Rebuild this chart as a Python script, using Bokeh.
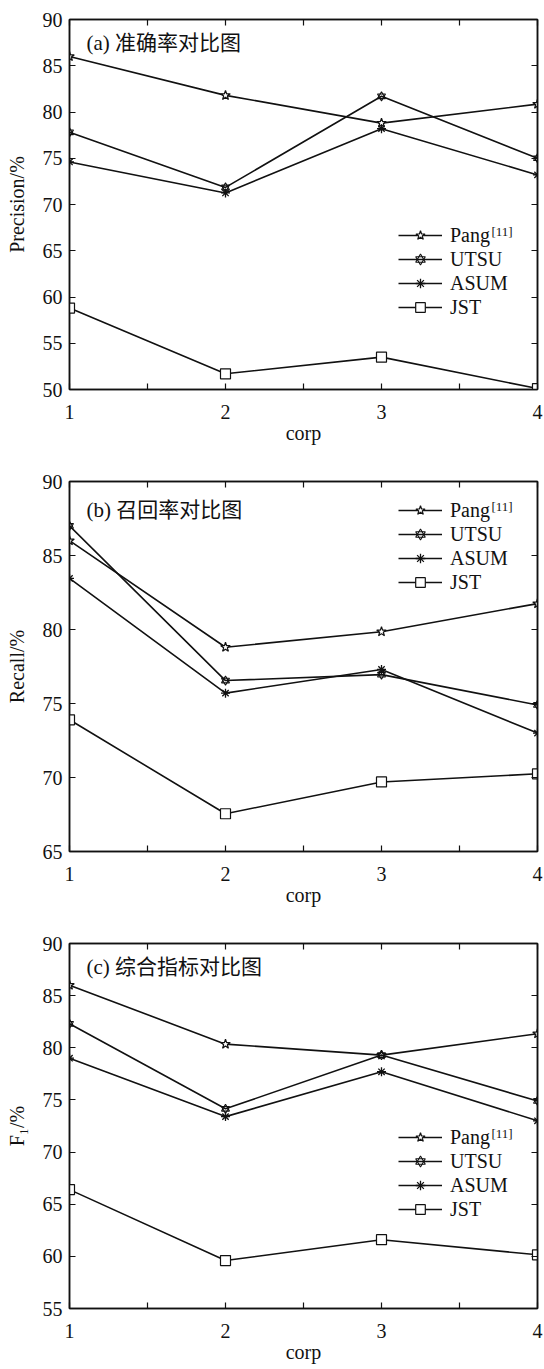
from bokeh.plotting import figure
from bokeh.models import Range1d, FixedTicker, LinearAxis, Legend, LegendItem, Label
from bokeh.layouts import column
from bokeh.embed import file_html
from bokeh.resources import INLINE

# ---------------- data ----------------
corp = [1, 2, 3, 4]
x_ticks = [1, 2, 3, 4]
x_minor_ticks = [1.5, 2.5, 3.5]
legend_names = ["Pang", "UTSU", "ASUM", "JST"]
legend_sup = "[11]"

precision_pang = [86.0, 81.8, 78.8, 80.85]
precision_utsu = [77.8, 71.85, 81.7, 75.0]
precision_asum = [74.6, 71.25, 78.2, 73.2]
precision_jst = [58.8, 51.7, 53.5, 50.1]

recall_pang = [86.0, 78.8, 79.85, 81.75]
recall_utsu = [87.0, 76.55, 76.95, 74.9]
recall_asum = [83.45, 75.7, 77.3, 73.0]
recall_jst = [73.9, 67.55, 69.7, 70.25]

f1_pang = [86.0, 80.35, 79.3, 81.35]
f1_utsu = [82.3, 74.15, 79.3, 74.9]
f1_asum = [79.0, 73.4, 77.7, 73.0]
f1_jst = [66.4, 59.6, 61.6, 60.15]

panel_titles = ["(a) 准确率对比图", "(b) 召回率对比图", "(c) 综合指标对比图"]
y_labels = ["Precision/%", "Recall/%", "F\u2081/%"]
y_ranges = [(50, 90), (65, 90), (55, 90)]
x_label = "corp"

SERIF = "'Liberation Serif', 'Times New Roman', serif"
TITLE_FONT = "'Liberation Serif', 'Noto Sans CJK SC', serif"
INK = "#111111"
FS = "20px"


def make_panel(series, yr, ylab, title, height, border_top, border_bottom,
               legend_bottom, title_from_top):
    p = figure(width=544, height=height, output_backend="svg", toolbar_location=None,
               x_range=Range1d(1, 4), y_range=Range1d(*yr),
               min_border_left=69, min_border_right=7,
               min_border_top=border_top, min_border_bottom=border_bottom,
               x_axis_label=x_label, y_axis_label=ylab)
    p.grid.visible = False
    p.outline_line_color = INK
    p.outline_line_width = 1.5
    p.background_fill_color = "white"
    p.border_fill_color = "white"

    xt = FixedTicker(ticks=x_ticks, minor_ticks=x_minor_ticks)
    yt = FixedTicker(ticks=list(range(yr[0], yr[1] + 1, 5)))
    p.xaxis.ticker = xt
    p.yaxis.ticker = yt

    for ax in [p.xaxis[0], p.yaxis[0]]:
        ax.axis_line_color = INK
        ax.axis_line_width = 1.5
        ax.major_tick_in = 6
        ax.major_tick_out = 0
        ax.minor_tick_in = 6
        ax.minor_tick_out = 0
        ax.major_tick_line_color = INK
        ax.minor_tick_line_color = INK
        ax.major_tick_line_width = 1.2
        ax.minor_tick_line_width = 1.2
        ax.major_label_text_font = SERIF
        ax.major_label_text_font_size = FS
        ax.major_label_text_color = INK
        ax.axis_label_text_font = SERIF
        ax.axis_label_text_font_size = FS
        ax.axis_label_text_font_style = "normal"
        ax.axis_label_text_color = INK
    p.yaxis[0].minor_tick_line_color = None
    p.xaxis[0].major_label_standoff = 15
    p.xaxis[0].axis_label_standoff = 0
    p.yaxis[0].major_label_standoff = 7
    p.yaxis[0].axis_label_standoff = 12

    top = LinearAxis(ticker=xt, major_label_text_font_size="0px",
                     major_label_text_color=None, major_label_standoff=0,
                     major_tick_in=6, major_tick_out=0, minor_tick_in=6, minor_tick_out=0,
                     axis_line_color=INK, axis_line_width=1.5,
                     major_tick_line_color=INK, minor_tick_line_color=INK,
                     major_tick_line_width=1.2, minor_tick_line_width=1.2)
    p.add_layout(top, "above")
    right = LinearAxis(ticker=yt, major_label_text_font_size="0px",
                       major_label_text_color=None, major_label_standoff=0,
                       major_tick_in=6, major_tick_out=0, minor_tick_line_color=None,
                       axis_line_color=INK, axis_line_width=1.5,
                       major_tick_line_color=INK, major_tick_line_width=1.2)
    p.add_layout(right, "right")

    pang, utsu, asum, jst = series
    lw = 1.6
    l1 = p.line(corp, pang, line_color=INK, line_width=lw)
    m1 = p.scatter(corp, pang, marker="star", size=10, line_color=INK, line_width=1.2,
                   fill_color="white")
    l2 = p.line(corp, utsu, line_color=INK, line_width=lw)
    m2a = p.scatter(corp, utsu, marker="triangle", size=8, line_color=INK, line_width=1.1,
                    fill_color=None)
    m2b = p.scatter(corp, utsu, marker="inverted_triangle", size=8, line_color=INK,
                    line_width=1.1, fill_color=None)
    l3 = p.line(corp, asum, line_color=INK, line_width=lw)
    m3 = p.scatter(corp, asum, marker="asterisk", size=9, line_color=INK, line_width=1.3)
    l4 = p.line(corp, jst, line_color=INK, line_width=lw)
    m4 = p.scatter(corp, jst, marker="square", size=10, line_color=INK, line_width=1.2,
                   fill_color="white")

    legend = Legend(items=[
        LegendItem(label=legend_names[0], renderers=[l1, m1]),
        LegendItem(label=legend_names[1], renderers=[l2, m2a, m2b]),
        LegendItem(label=legend_names[2], renderers=[l3, m3]),
        LegendItem(label=legend_names[3], renderers=[l4, m4]),
    ], location=(329, legend_bottom), glyph_width=44, glyph_height=24, label_height=24,
        label_standoff=8, spacing=0, padding=0, margin=0,
        border_line_color=None, background_fill_alpha=0,
        label_text_font=SERIF, label_text_font_size=FS, label_text_color=INK)
    p.add_layout(legend)

    p.add_layout(Label(x=422, y=legend_bottom + 96 - 12 + 4, x_units="screen",
                       y_units="screen", text=legend_sup, text_font=SERIF,
                       text_font_size="13px", text_baseline="middle", text_align="left",
                       text_color=INK))

    p.add_layout(Label(x=17, y=370 - title_from_top, x_units="screen", y_units="screen",
                       text=title, text_font=TITLE_FONT, text_font_size="21px",
                       text_baseline="middle", text_align="left", text_color=INK))
    return p


pa = make_panel([precision_pang, precision_utsu, precision_asum, precision_jst],
                y_ranges[0], y_labels[0], panel_titles[0], 450, 19, 61, 70, 23)
pb = make_panel([recall_pang, recall_utsu, recall_asum, recall_jst],
                y_ranges[1], y_labels[1], panel_titles[1], 462, 31, 61, 257, 28)
pc = make_panel([f1_pang, f1_utsu, f1_asum, f1_jst],
                y_ranges[2], y_labels[2], panel_titles[2], 453, 31, 52, 87, 28)

layout = column(pa, pb, pc, spacing=0)
open("out.html", "w").write(file_html(layout, INLINE))
